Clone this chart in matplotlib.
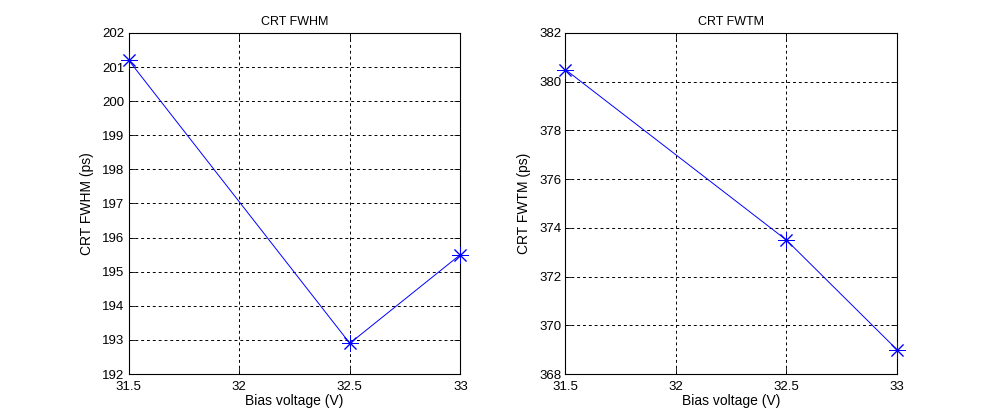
import matplotlib
matplotlib.use("Agg")
import matplotlib.pyplot as plt

# bias voltage (V)
bias = [31.5, 32.5, 33]
# coincidence time resolution (ps)
fwhm = [201.2, 192.9, 195.5]
fwtm = [380.5, 373.5, 369.0]

xticks = [31.5, 32, 32.5, 33]
xticklabels = ["31.5", "32", "32.5", "33"]

plt.rcParams['font.family'] = ['Liberation Sans', 'DejaVu Sans']
plt.rcParams['font.size'] = 9.5


def style_axes(ax, ylim, ystep):
	ax.set_xlim(31.5, 33)
	ax.set_ylim(*ylim)
	ax.set_xticks(xticks)
	ax.set_xticklabels(xticklabels)
	ax.set_yticks(range(ylim[0], ylim[1] + 1, ystep))
	ax.tick_params(direction='in', length=4, width=0.6, top=True, right=True,
		colors='black', labelsize=9.5)
	ax.tick_params(axis='x', pad=5)
	ax.tick_params(axis='y', pad=3)
	ax.grid(True, color='black', linestyle=(0, (3, 3)), linewidth=0.7)
	for s in ax.spines.values():
		s.set_linewidth(0.8)


fig = plt.figure(figsize=(9.9, 4.2), dpi=100)

ax1 = fig.add_axes([0.130, 0.1095, 0.335, 0.812])
ax1.plot(bias, fwhm, color='#0000ff', linewidth=0.7, marker=(8, 2, 0), markersize=12,
	markeredgewidth=0.7, clip_on=False, zorder=3)
style_axes(ax1, (192, 202), 1)
ax1.set_title("CRT FWHM", fontsize=9, pad=6)
ax1.set_xlabel("Bias voltage (V)", fontsize=10, labelpad=1)
ax1.set_ylabel("CRT FWHM (ps)", fontsize=10, labelpad=6)

ax2 = fig.add_axes([0.571, 0.1095, 0.335, 0.812])
ax2.plot(bias, fwtm, color='#0000ff', linewidth=0.7, marker=(8, 2, 0), markersize=12,
	markeredgewidth=0.7, clip_on=False, zorder=3)
style_axes(ax2, (368, 382), 2)
ax2.set_title("CRT FWTM", fontsize=9, pad=6)
ax2.set_xlabel("Bias voltage (V)", fontsize=10, labelpad=1)
ax2.set_ylabel("CRT FWTM (ps)", fontsize=10, labelpad=6)

fig.savefig("out.png", dpi=100)
